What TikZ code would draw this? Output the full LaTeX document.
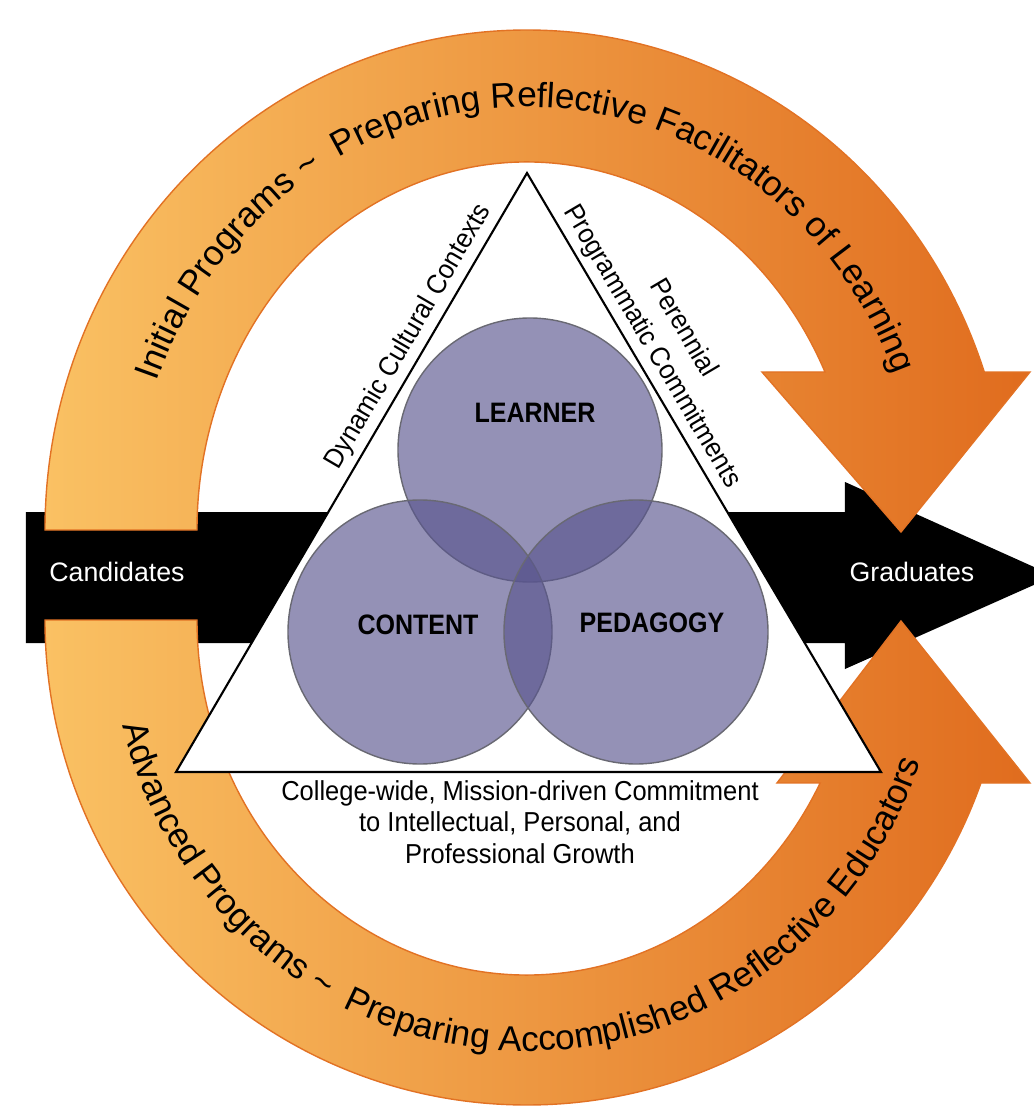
\documentclass[tikz,border=0pt]{standalone}
\usepackage{fontspec}
\setmainfont{Liberation Sans}
\newfontfamily\narrowfont{Liberation Sans}[FakeStretch=0.93]
\newfontfamily\labelfont{Liberation Sans}[FakeStretch=0.89]
\usetikzlibrary{decorations.text}

\definecolor{armlight}{RGB}{250,193,99}
\definecolor{armdark}{RGB}{224,108,30}
\definecolor{armedge}{RGB}{226,114,36}
\definecolor{vennfill}{RGB}{89,85,142}
\definecolor{venndraw}{RGB}{105,105,115}

\newcommand\armfont{\fontsize{10}{12}\selectfont}

\tikzset{
  arm/.style={draw=armedge, line width=0.4pt, left color=armlight, right color=armdark},
  tri/.style={fill=white, draw=black, line width=0.6pt},
  venn/.style={circle, minimum size=26.4mm, inner sep=0pt, fill=vennfill,
    fill opacity=0.645, draw=venndraw, line width=0.4pt},
  vennlabel/.style={font=\labelfont\bfseries\fontsize{8}{9.6}\selectfont},
  edgetext/.style={font=\narrowfont\fontsize{7.8}{9}\selectfont, inner sep=1.5pt, align=center},
  flowlabel/.style={text=white, font=\fontsize{7.6}{9}\selectfont}
}

\begin{document}
\begin{tikzpicture}[x=0.1mm, y=0.1mm]
\useasboundingbox (0,0) rectangle (1034,1109);
\clip (0,0) rectangle (1034,1109);

\coordinate (ctop) at (527,579);
\coordinate (cbot) at (527,489);

% candidates -> graduates
\fill[black] (26,597) -- (845,597) -- (845,627) -- (1054,533) -- (845,440) -- (845,466) -- (26,466) -- cycle;
\node[flowlabel] (cand) at (117,537) {Candidates};
\node[flowlabel] (grad) at (912,537) {Graduates};

% upper arm
\path[arm] ([shift={(ctop)}]180:482 and 500)
  arc[start angle=180, end angle=18.42, x radius=482, y radius=500]
  -- (1030,737) -- (901,577) -- (762,737)
  -- ([shift={(ctop)}]25.43:330 and 368)
  arc[start angle=25.43, end angle=180, x radius=330, y radius=368] -- cycle;
\path[decorate, decoration={text along path, text align=center,
    text={|\armfont|Initial Programs {\textasciitilde}{\ } Preparing Reflective Facilitators of Learning}}]
  ([shift={(ctop)}]179:395 and 423) arc[start angle=179, end angle=2, x radius=395, y radius=423];

% lower arm
\path[arm] ([shift={(cbot)}]180:482 and 485)
  arc[start angle=180, end angle=340.36, x radius=482, y radius=485]
  -- (1030,326) -- (901,488) -- (777,326)
  -- ([shift={(cbot)}]332.67:330 and 355)
  arc[start angle=332.67, end angle=180, x radius=330, y radius=355] -- cycle;
\path[decorate, decoration={text along path, text align=center,
    text={|\armfont|Advanced Programs {\textasciitilde}{\ } Preparing Accomplished Reflective Educators}}]
  ([shift={(cbot)}]177:417 and 431) arc[start angle=177, end angle=358, x radius=417, y radius=431];

% triangle with its side labels
\draw[tri] (176,337) coordinate (tl)
  -- node[edgetext, sloped, above, pos=0.71] (dcc) {Dynamic Cultural Contexts} (527,936) coordinate (tapex)
  -- node[edgetext, sloped, above, pos=0.306, font=\narrowfont\fontsize{7.8}{10.2}\selectfont] (ppc) {Perennial\\Programmatic Commitments} (881,337) coordinate (tr)
  -- cycle;
\node[edgetext] (cwc) at (520,287) {College-wide, Mission-driven Commitment\\to Intellectual, Personal, and\\Professional Growth};

% the three circles
\node[venn] (learner) at (530,659) {};
\node[venn] (content) at (420,477) {};
\node[venn] (pedagogy) at (636,477) {};
\node[vennlabel] (learnerlbl) at (535,696) {LEARNER};
\node[vennlabel] (contentlbl) at (418,484) {CONTENT};
\node[vennlabel] (pedagogylbl) at (652,486) {PEDAGOGY};
\end{tikzpicture}
\end{document}
